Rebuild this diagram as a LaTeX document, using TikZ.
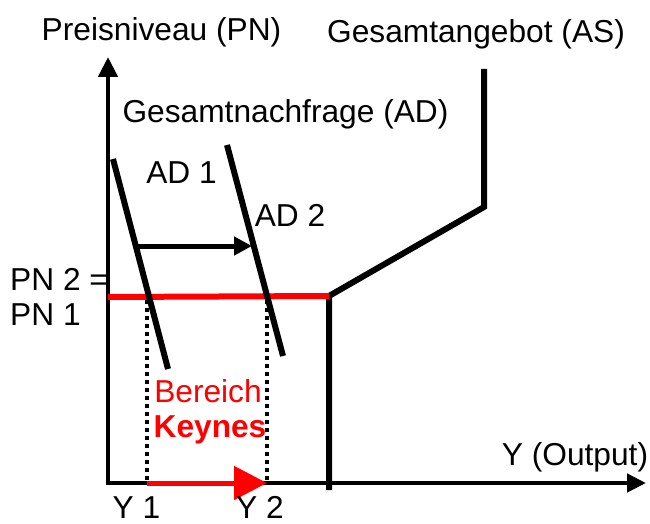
\documentclass[tikz,border=0pt]{standalone}
\usepackage{fontspec}
\setmainfont{Liberation Sans}
\usetikzlibrary{arrows.meta}

\tikzset{
  lbl/.style={font=\fontsize{31.7}{36}\selectfont, inner sep=0pt, anchor=base},
  axis/.style={line width=4.5pt, {Triangle[length=20pt,width=19pt]}-{Triangle[length=19pt,width=18pt]}},
  curve/.style={line width=6pt},
  helper/.style={line width=3.5pt, dash pattern=on 4pt off 4pt},
}

\begin{document}
\begin{tikzpicture}[x=1pt, y=-1pt]
\useasboundingbox (0,0) rectangle (650,524);

% axes
\coordinate (ytop) at (108,57);
\coordinate (O) at (108,483);
\coordinate (xend) at (646,483);
\draw[axis] (ytop) -- (O) -- (xend);

% Gesamtangebot
\coordinate (as0) at (329,490);
\coordinate (as1) at (329,296);
\coordinate (as2) at (484,207);
\coordinate (as3) at (484,69);
\draw[curve, line join=miter] (as0) -- (as1) -- (as2) -- (as3);

% Preisniveau PN 1 = PN 2
\coordinate (pn) at (108,297);
\draw[curve, red] (pn) -- (as1);

% Gesamtnachfrage
\coordinate (ad1a) at (113,159);
\coordinate (ad1b) at (168,369);
\coordinate (ad2a) at (227,145);
\coordinate (ad2b) at (283,356);
\draw[curve] (ad1a) -- (ad1b);
\draw[curve] (ad2a) -- (ad2b);

% shift AD 1 -> AD 2
\coordinate (sh1) at (137,246);
\coordinate (sh2) at (252,246);
\draw[line width=5pt, -{Triangle[length=18pt,width=18pt]}] (sh1) -- (sh2);

% Y 1, Y 2
\coordinate (y1t) at (147,300);
\coordinate (y1) at (147,483);
\coordinate (y2t) at (267,300);
\coordinate (y2) at (267,483);
\draw[helper] (y1t) -- (y1);
\draw[helper] (y2t) -- (y2);
\draw[red, line width=5pt, -{Triangle[length=33pt,width=33pt]}] (y1) -- (y2);

% labels
\node[lbl] (pnlabel) at (161.5,41) {Preisniveau (PN)};
\node[lbl] (aslabel) at (476,43) {Gesamtangebot (AS)};
\node[lbl] (adlabel) at (285.5,122) {Gesamtnachfrage (AD)};
\node[lbl] (ad1label) at (181.5,183) {AD 1};
\node[lbl] (ad2label) at (290,226) {AD 2};
\node[lbl, anchor=base west] (pn2label) at (10,290) {PN 2 =};
\node[lbl, anchor=base west] (pn1label) at (10,325) {PN 1};
\node[lbl, red] (bereich) at (208,402) {Bereich};
\node[lbl, red, font=\fontsize{31.7}{36}\selectfont\bfseries] (keynes) at (210,437) {Keynes};
\node[lbl] (outlabel) at (575,465) {Y (Output)};
\node[lbl] (y1label) at (136.5,518) {Y 1};
\node[lbl] (y2label) at (260,518) {Y 2};
\end{tikzpicture}
\end{document}
